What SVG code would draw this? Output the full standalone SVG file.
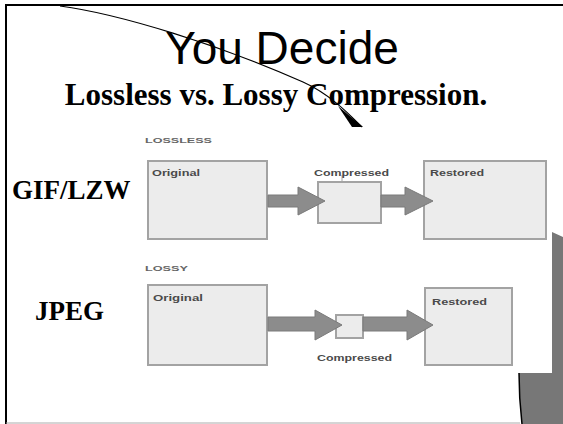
<svg xmlns="http://www.w3.org/2000/svg" width="563" height="424" viewBox="0 0 563 424">
<style>
.box{fill:#ececec;stroke:#a3a3a3;stroke-width:2}
.lbl{font-family:"Liberation Sans",Arial,sans-serif;font-size:9px;font-weight:bold;fill:#4a4a4a}
.sec{font-family:"Liberation Sans",Arial,sans-serif;font-size:8px;font-weight:bold;fill:#666}
.arrow{fill:#8c8c8c;stroke:#7a7a7a;stroke-width:1}
.side{font-family:"Liberation Serif","Times New Roman",serif;font-weight:bold;font-size:27px;fill:#000}
</style>
<rect x="0" y="0" width="563" height="424" fill="#fff"/>
<g id="frame">
<line x1="5" y1="5" x2="563" y2="5" stroke="#000" stroke-width="2"/>
<line x1="6" y1="4" x2="6" y2="424" stroke="#000" stroke-width="2"/>
<line x1="6" y1="423" x2="520" y2="423" stroke="#aaa" stroke-width="1"/>
<path d="M552,232 L563,237 L563,424 L522,424 Q519,395 519,373 L552,373 Z" fill="#777"/>
<path d="M519,373 Q519,398 522,424" fill="none" stroke="#000" stroke-width="1.5"/>
<path d="M60,6 C120,14 220,45 303,82 C330,94 350,115 362,127" fill="none" stroke="#000" stroke-width="1.2"/>
<path d="M338,106 L363,127 L352,127 Z" fill="#000"/>
</g>
<g id="titles">
<text x="282" y="64" text-anchor="middle" font-family="Liberation Sans, Arial, sans-serif" font-size="46">You Decide</text>
<text x="276" y="105" text-anchor="middle" font-family="Liberation Serif, Times New Roman, serif" font-weight="bold" font-size="31">Lossless vs. Lossy Compression.</text>
<text class="side" x="12" y="199">GIF/LZW</text>
<text class="side" x="35" y="320">JPEG</text>
<text class="sec" x="145" y="143" textLength="67" lengthAdjust="spacingAndGlyphs">LOSSLESS</text>
<text class="sec" x="145" y="271" textLength="43" lengthAdjust="spacingAndGlyphs">LOSSY</text>
</g>
<g id="lossless-original">
<rect class="box" x="148" y="161" width="119" height="78"/>
<text class="lbl" x="152" y="176" textLength="48" lengthAdjust="spacingAndGlyphs">Original</text>
</g>
<g id="lossless-compressed">
<rect class="box" x="318" y="182" width="63" height="41"/>
<line x1="342" y1="175" x2="342" y2="182" stroke="#a3a3a3" stroke-width="1"/>
<text class="lbl" x="314" y="176" textLength="75" lengthAdjust="spacingAndGlyphs">Compressed</text>
</g>
<g id="lossless-restored">
<rect class="box" x="424" y="161" width="122" height="78"/>
<text class="lbl" x="430" y="176" textLength="54" lengthAdjust="spacingAndGlyphs">Restored</text>
</g>
<g id="lossy-original">
<rect class="box" x="148" y="285" width="119" height="80"/>
<text class="lbl" x="153" y="301" textLength="50" lengthAdjust="spacingAndGlyphs">Original</text>
</g>
<g id="lossy-compressed">
<rect class="box" x="336" y="315" width="27" height="23"/>
<text class="lbl" x="317" y="361" textLength="75" lengthAdjust="spacingAndGlyphs">Compressed</text>
</g>
<g id="lossy-restored">
<rect class="box" x="425" y="288" width="87" height="77"/>
<text class="lbl" x="432" y="305" textLength="55" lengthAdjust="spacingAndGlyphs">Restored</text>
</g>
<g id="connectors">
<polygon class="arrow" points="268,195 298,195 298,187 325,201 298,215 298,207 268,207"/>
<polygon class="arrow" points="381,195 405,195 405,187 433,201 405,215 405,207 381,207"/>
<polygon class="arrow" points="268,317 315,317 315,310 342,325 315,340 315,331 268,331"/>
<polygon class="arrow" points="363,317 407,317 407,310 433,325 407,340 407,331 363,331"/>
</g>
</svg>
